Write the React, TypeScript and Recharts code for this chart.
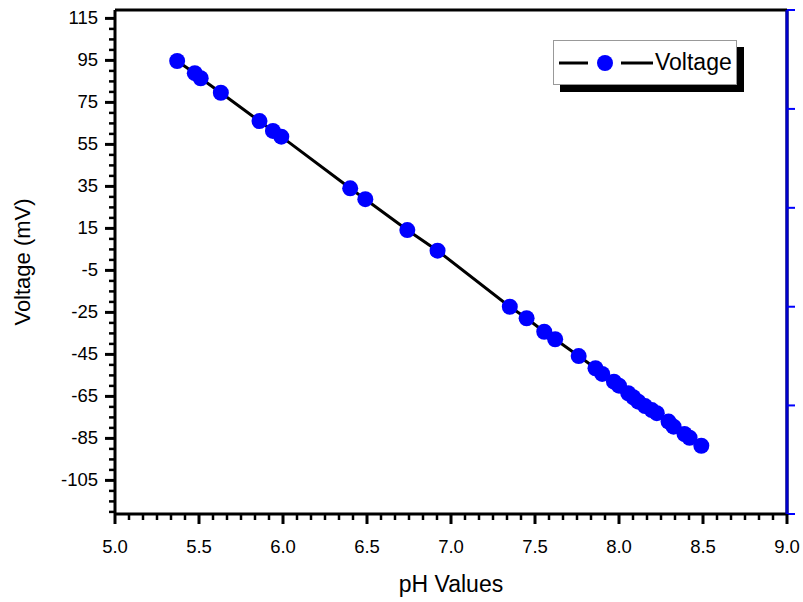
import React from 'react';
import { ComposedChart, Line, XAxis, YAxis, ReferenceLine, Legend } from 'recharts';

const phValues = [5.37, 5.475, 5.51, 5.63, 5.86, 5.94, 5.99, 6.40, 6.49, 6.74, 6.92, 7.35, 7.45, 7.555, 7.62, 7.76, 7.86, 7.90, 7.97, 8.00, 8.055, 8.085, 8.115, 8.155, 8.195, 8.225, 8.295, 8.325, 8.39, 8.42, 8.49];
const voltageValues = [94.7, 88.9, 86.5, 79.6, 66.1, 61.4, 58.7, 34.1, 28.9, 14.2, 4.4, -22.3, -27.8, -34.2, -37.8, -45.8, -51.6, -54.3, -58, -59.9, -63.5, -65.4, -67.5, -69.6, -71.5, -73, -77, -79.4, -82.9, -84.7, -88.5];

const xMajorTicks = [5.0, 5.5, 6.0, 6.5, 7.0, 7.5, 8.0, 8.5, 9.0];
const yMajorTicks = [115, 95, 75, 55, 35, 15, -5, -25, -45, -65, -85, -105];
const rightTicks = [119, 71.9, 24.8, -22.3, -69.3, -121];
const xDomain: [number, number] = [5, 9];
const yDomain: [number, number] = [-121, 119];

const data = phValues.map((ph, i) => ({ ph, voltage: voltageValues[i] }));

const xAllTicks: number[] = [];
for (let k = 0; k <= 48; k++) xAllTicks.push(+(5 + k / 12).toFixed(5));
const yAllTicks: number[] = [];
for (let v = 115; v >= -120; v -= 5) yAllTicks.push(v);

const FONT = '"Liberation Sans", Arial, sans-serif';

const isXMajor = (v: number) => xMajorTicks.some((t) => Math.abs(t - v) < 1e-4);
const isYMajor = (v: number) => yMajorTicks.includes(v);

const XTick = (props: any) => {
  const { x, y, payload } = props;
  const v = payload.value;
  const major = isXMajor(v);
  return (
    <g>
      <line x1={x} y1={y} x2={x} y2={y + (major ? 10 : 6)} stroke="#000" strokeWidth={major ? 3 : 2.5} />
      {major && (
        <text x={x} y={y + 39} textAnchor="middle" fontSize={18.5} fill="#000" fontFamily={FONT}>
          {v.toFixed(1)}
        </text>
      )}
    </g>
  );
};

const YTick = (props: any) => {
  const { x, y, payload } = props;
  const v = payload.value;
  const major = isYMajor(v);
  return (
    <g>
      <line x1={x} y1={y} x2={x - (major ? 10 : 6)} y2={y} stroke="#000" strokeWidth={major ? 3 : 2.5} />
      {major && (
        <text x={x - 17} y={y + 6} textAnchor="end" fontSize={18.5} fill="#000" fontFamily={FONT}>
          {v}
        </text>
      )}
    </g>
  );
};

const EmptyTick = () => <g />;

const LegendBox = () => (
  <div
    style={{
      width: 184,
      height: 45,
      background: '#fff',
      border: '1px solid #999',
      boxShadow: '7px 7px 0 #000',
      display: 'flex',
      alignItems: 'center',
      boxSizing: 'border-box',
    }}
  >
    <svg width={100} height={20} style={{ marginLeft: 4 }}>
      <line x1={1} y1={10} x2={30} y2={10} stroke="#000" strokeWidth={3} />
      <circle cx={47} cy={10} r={8} fill="#0000ff" />
      <line x1={63} y1={10} x2={95} y2={10} stroke="#000" strokeWidth={3} />
    </svg>
    <span style={{ fontFamily: FONT, fontSize: 23, color: '#000', marginLeft: -3 }}>Voltage</span>
  </div>
);

export default function App() {
  return (
    <div style={{ position: 'absolute', left: 0, top: 0, width: 803, height: 602, background: '#fff' }}>
      <ComposedChart width={803} height={602} data={data} margin={{ top: 10, right: 0, bottom: 0, left: 0 }}>
        <XAxis
          dataKey="ph"
          type="number"
          domain={xDomain}
          ticks={xAllTicks}
          interval={0}
          allowDataOverflow
          tickSize={0}
          tickMargin={0}
          tickLine={false}
          tick={<XTick />}
          height={88}
          axisLine={{ stroke: '#000', strokeWidth: 3 }}
          label={{ value: 'pH Values', position: 'insideBottom', offset: 10, fontSize: 23, fill: '#000', fontFamily: FONT }}
        />
        <YAxis
          yAxisId="left"
          type="number"
          domain={yDomain}
          ticks={yAllTicks}
          interval={0}
          allowDataOverflow
          tickSize={0}
          tickMargin={0}
          tickLine={false}
          tick={<YTick />}
          width={115}
          axisLine={{ stroke: '#000', strokeWidth: 3 }}
          label={{ value: 'Voltage (mV)', angle: -90, position: 'insideLeft', offset: 22, fontSize: 22, fill: '#000', fontFamily: FONT, style: { textAnchor: 'middle' } }}
        />
        <YAxis yAxisId="spacer" orientation="right" width={3} axisLine={false} tickLine={false} tick={false} domain={yDomain} />
        <YAxis
          yAxisId="blue"
          orientation="right"
          width={13}
          type="number"
          domain={yDomain}
          ticks={rightTicks}
          interval={0}
          allowDataOverflow
          tickSize={8}
          tick={<EmptyTick />}
          tickLine={{ stroke: '#0000ff', strokeWidth: 2 }}
          axisLine={{ stroke: '#0000cc', strokeWidth: 3 }}
        />
        <ReferenceLine yAxisId="left" y={119} stroke="#000" strokeWidth={3} />
        <ReferenceLine yAxisId="left" x={9} stroke="#000" strokeWidth={3} />
        <Legend
          layout="horizontal"
          verticalAlign="middle"
          align="center"
          content={<LegendBox />}
          wrapperStyle={{ position: 'absolute', left: 553, top: 40, width: 184, height: 45 }}
        />
        <Line
          yAxisId="left"
          dataKey="voltage"
          name="Voltage"
          type="linear"
          stroke="#000"
          strokeWidth={3}
          dot={{ r: 8, fill: '#0000ff', stroke: 'none' }}
          activeDot={false}
          isAnimationActive={false}
        />
      </ComposedChart>
    </div>
  );
}
